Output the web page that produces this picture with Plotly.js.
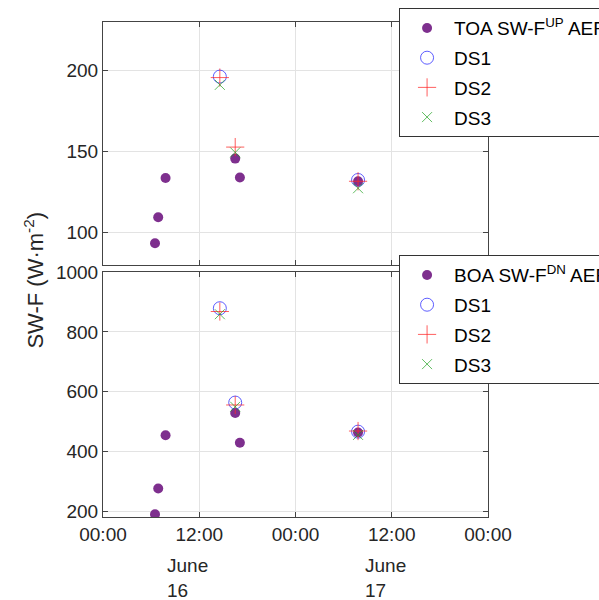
<!DOCTYPE html>
<html>
<head>
<meta charset="utf-8">
<script src="https://cdn.plot.ly/plotly-3.0.1.min.js"></script>
<style>html,body{margin:0;padding:0;background:#fff;}#chart{width:599px;height:600px;}</style>
</head>
<body>
<div id="chart"></div>
<script>
// ---- data ----
const aeTimes = ['2022-06-16 06:29','2022-06-16 06:53','2022-06-16 07:48','2022-06-16 16:29','2022-06-16 17:04','2022-06-17 07:48'];
const dsTimes = ['2022-06-16 14:34','2022-06-16 16:29','2022-06-17 07:48'];

const toaAE  = [93.5, 109.5, 133.7, 145.7, 134.0, 131.7];
const toaDS1 = [196.3, null, 132.5];
const toaDS2 = [195.7, 152.8, 131.7];
const toaDS3 = [191.2, 149.5, 127.4];

const boaAE  = [191, 277, 455, 529, 430, 464];
const boaDS1 = [879, 564, 467];
const boaDS2 = [868, 556, 469];
const boaDS3 = [859, 550, 456];

const xTickVals = ['2022-06-16 00:00','2022-06-16 12:00','2022-06-17 00:00','2022-06-17 12:00','2022-06-18 00:00'];
const xTickText = ['00:00','12:00','00:00','12:00','00:00'];
const dayLabelPos = ['2022-06-16 12:00','2022-06-17 12:00'];
const dayLabels = ['June<br>16','June<br>17'];

const topYTicks = [100,150,200];
const botYTicks = [200,400,600,800,1000];

const names = {
  toa: 'TOA SW-F<sup>UP</sup> AERONET',
  boa: 'BOA SW-F<sup>DN</sup> AERONET',
  ds1: 'DS1', ds2: 'DS2', ds3: 'DS3'
};

// ---- styles ----
const FONT = 'Liberation Sans, Arial, sans-serif';
const purple = '#7E2F8E';
const blue = 'rgba(40,40,255,0.75)';
const red = 'rgba(255,40,40,0.75)';
const green = 'rgba(30,160,30,0.7)';

function aeTrace(y, name, xa, ya, leg, grp){
  return {x: aeTimes, y: y, name: name, type:'scatter', mode:'markers', xaxis: xa, yaxis: ya, legend: leg, legendgroup: grp,
    marker:{symbol:'circle', size:10, color: purple, line:{width:0}}};
}
function dsTrace(y, name, sym, col, size, xa, ya, leg, grp){
  return {x: dsTimes, y: y, name: name, type:'scatter', mode:'markers', xaxis: xa, yaxis: ya, legend: leg, legendgroup: grp,
    marker:{symbol: sym, size: size, color: col, line:{width:1, color: col}}};
}

const traces = [
  aeTrace(toaAE, names.toa, 'x', 'y', 'legend', 't0'),
  dsTrace(toaDS1, names.ds1, 'circle-open', blue, 13, 'x', 'y', 'legend', 't1'),
  dsTrace(toaDS2, names.ds2, 'cross-thin-open', red, 13, 'x', 'y', 'legend', 't2'),
  dsTrace(toaDS3, names.ds3, 'x-thin-open', green, 10, 'x', 'y', 'legend', 't3'),
  aeTrace(boaAE, names.boa, 'x2', 'y2', 'legend2', 'b0'),
  dsTrace(boaDS1, names.ds1, 'circle-open', blue, 13, 'x2', 'y2', 'legend2', 'b1'),
  dsTrace(boaDS2, names.ds2, 'cross-thin-open', red, 13, 'x2', 'y2', 'legend2', 'b2'),
  dsTrace(boaDS3, names.ds3, 'x-thin-open', green, 10, 'x2', 'y2', 'legend2', 'b3')
];

const axisCommon = {
  showline:true, linecolor:'#444444', linewidth:1, mirror:'ticks',
  ticks:'inside', ticklen:5, tickcolor:'#444444',
  showgrid:true, gridcolor:'#e3e3e3', gridwidth:1, zeroline:false,
  tickfont:{family:FONT, size:19, color:'#262626'}
};

const xRange = ['2022-06-16 00:00','2022-06-18 00:00'];

const legendCommon = {
  xanchor:'left', yanchor:'top', bgcolor:'#ffffff', bordercolor:'#333333', borderwidth:1,
  font:{family:FONT, size:19, color:'#000'}, itemsizing:'trace', itemwidth:44,
  traceorder:'grouped', tracegroupgap:2
};

const layout = {
  width:599, height:600,
  paper_bgcolor:'#ffffff', plot_bgcolor:'#ffffff',
  margin:{l:103, r:111, t:22, b:83, autoexpand:false},
  showlegend:true,
  xaxis: Object.assign({}, axisCommon, {domain:[0,1], anchor:'y', type:'date', range:xRange,
    tickmode:'array', tickvals:xTickVals, ticktext:xTickText, showticklabels:false}),
  yaxis: Object.assign({}, axisCommon, {domain:[0.509,1], anchor:'x', range:[80,230],
    tickmode:'array', tickvals:topYTicks}),
  xaxis2: Object.assign({}, axisCommon, {domain:[0,1], anchor:'y2', type:'date', range:xRange,
    tickmode:'array', tickvals:xTickVals, ticktext:xTickText, showticklabels:true}),
  yaxis2: Object.assign({}, axisCommon, {domain:[0,0.495], anchor:'x2', range:[182,1000],
    tickmode:'array', tickvals:botYTicks}),
  legend: Object.assign({}, legendCommon, {x:0.769, y:1.028}),
  legend2: Object.assign({}, legendCommon, {x:0.769, y:0.529}),
  annotations: [
    {text:'SW-F (W·m<sup>-2</sup>)', xref:'paper', yref:'paper', x:-0.18, y:0.479, textangle:-90,
     showarrow:false, font:{family:FONT, size:22, color:'#262626'}, xanchor:'center', yanchor:'middle'}
  ].concat(dayLabelPos.map((d,i)=>({
     text: dayLabels[i], xref:'x2', yref:'paper', x:d, y:-0.072, xanchor:'left', yanchor:'top',
     xshift:[-34,-29][i], align:'left', showarrow:false, font:{family:FONT, size:19, color:'#262626'}
  })))
};

Plotly.newPlot('chart', traces, layout, {displayModeBar:false, staticPlot:true});
</script>
</body>
</html>
